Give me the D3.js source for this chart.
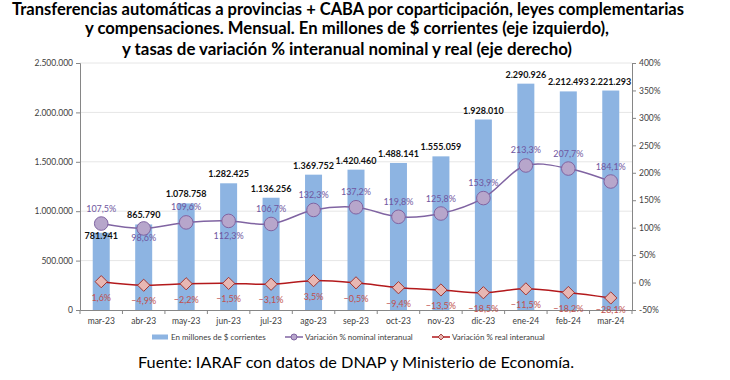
<!DOCTYPE html>
<html><head><meta charset="utf-8">
<script src="https://cdn.jsdelivr.net/npm/d3@7"></script>
<style>
body{margin:0;background:#fff;}
svg{display:block;font-family:"Lato","Open Sans",sans-serif;}
</style></head>
<body>
<svg id="c" width="730" height="380"></svg>
<script>
const categories = ["mar-23","abr-23","may-23","jun-23","jul-23","ago-23","sep-23","oct-23","nov-23","dic-23","ene-24","feb-24","mar-24"];
const montos = [781941, 865790, 1078758, 1282425, 1136256, 1369752, 1420460, 1488141, 1555059, 1928010, 2290926, 2212493, 2221293];
const nominal = [107.5, 98.6, 109.6, 112.3, 106.7, 132.3, 137.2, 119.8, 125.8, 153.9, 213.3, 207.7, 184.1];
const real = [1.6, -4.9, -2.2, -1.5, -3.1, 3.5, -0.5, -9.4, -13.5, -18.5, -11.5, -18.2, -28.1];
const leftTicks = [0, 500000, 1000000, 1500000, 2000000, 2500000];
const rightTicks = [-50, 0, 50, 100, 150, 200, 250, 300, 350, 400];
const titleLines = [
  "Transferencias automáticas a provincias + CABA por coparticipación, leyes complementarias",
  "y compensaciones. Mensual. En millones de $ corrientes (eje izquierdo),",
  "y tasas de variación % interanual nominal y real (eje derecho)"
];
const legendLabels = ["En millones de $ corrientes","Variación % nominal interanual","Variación % real interanual"];
const source = "Fuente: IARAF con datos de DNAP y Ministerio de Economía.";

const svg = d3.select("#c");
const L = 80, R = 632, T = 63, B = 310;

const fmtNum = d3.formatLocale({decimal:",", thousands:".", grouping:[3], currency:["$",""]});
const fInt = fmtNum.format(",d");
const fPct = v => fmtNum.format(".1f")(v) + "%";

const x = d3.scaleBand().domain(categories).range([L, R]).paddingInner(0).paddingOuter(0);
const yL = d3.scaleLinear().domain([0, 2500000]).range([B, T]);
const yR = d3.scaleLinear().domain([-50, 400]).range([B, T]);
const cx = c => x(c) + x.bandwidth()/2;

// title
const titleFit = [{w:672, c:348, y:14.5},{w:524, c:347, y:34},{w:450, c:347, y:54.5}];
titleLines.forEach((t,i)=>{
  svg.append("text").attr("x", titleFit[i].c).attr("y", titleFit[i].y)
    .attr("text-anchor","middle").attr("font-size",16.5).attr("font-weight","bold")
    .attr("fill","#000").attr("textLength", titleFit[i].w).attr("lengthAdjust","spacingAndGlyphs")
    .text(t);
});

// gridlines
svg.append("g").selectAll("line").data(leftTicks.filter(d=>d>0)).join("line")
  .attr("x1", L).attr("x2", R).attr("y1", d=>yL(d)).attr("y2", d=>yL(d))
  .attr("stroke","#e6e6e6").attr("stroke-width",1);

// bars
svg.append("g").selectAll("rect").data(montos).join("rect")
  .attr("x",(d,i)=>cx(categories[i]) - 8.5).attr("width",17)
  .attr("y", d=>yL(d)).attr("height", d=>B - yL(d))
  .attr("fill","#8db4e2");

// axes
const axL = svg.append("g").attr("transform",`translate(${L},0)`)
  .call(d3.axisLeft(yL).tickValues(leftTicks).tickFormat(d=>fInt(d)).tickSize(4).tickPadding(3));
const axR = svg.append("g").attr("transform",`translate(${R},0)`)
  .call(d3.axisRight(yR).tickValues(rightTicks).tickFormat(d=>d+"%").tickSize(4).tickPadding(3));
const axB = svg.append("g").attr("transform",`translate(0,${B})`)
  .call(d3.axisBottom(x).tickSize(0).tickPadding(8));
[axL, axR, axB].forEach(a=>{
  a.select(".domain").attr("stroke","#868686");
  a.selectAll(".tick line").attr("stroke","#868686");
  a.selectAll("text").attr("font-size",8.5).attr("fill","#404040").attr("font-family","Lato, 'Open Sans', sans-serif");
});
// category boundary ticks
svg.append("g").selectAll("line").data(d3.range(categories.length+1)).join("line")
  .attr("x1", i=>L + i*x.bandwidth()).attr("x2", i=>L + i*x.bandwidth())
  .attr("y1", B).attr("y2", B+4).attr("stroke","#868686");

// lines
const lineGen = d3.line().x((d,i)=>cx(categories[i])).y(d=>yR(d)).curve(d3.curveCatmullRom.alpha(0.5));
svg.append("path").datum(nominal).attr("d", lineGen).attr("fill","none")
  .attr("stroke","#8064a2").attr("stroke-width",1.5);
svg.append("path").datum(real).attr("d", lineGen).attr("fill","none")
  .attr("stroke","#b3191c").attr("stroke-width",1.5);

// markers
svg.append("g").selectAll("circle").data(nominal).join("circle")
  .attr("cx",(d,i)=>cx(categories[i])).attr("cy", d=>yR(d)).attr("r",6.8)
  .attr("fill","#b7a6cb").attr("stroke","#8064a2").attr("stroke-width",1);
const dia = d3.symbol().type(d3.symbolDiamond2).size(95);
svg.append("g").selectAll("path").data(real).join("path")
  .attr("transform",(d,i)=>`translate(${cx(categories[i])},${yR(d)})`)
  .attr("d", dia).attr("fill","#e8b7b3").attr("stroke","#a23734").attr("stroke-width",1);

// bar labels
const barLabelShift = {0: 12};
svg.append("g").selectAll("text").data(montos).join("text")
  .attr("x",(d,i)=>cx(categories[i])).attr("y",(d,i)=>yL(d) - 6 + (barLabelShift[i]||0))
  .attr("text-anchor","middle").attr("font-size",9).attr("font-weight","bold").attr("fill","#111")
  .text(d=>fInt(d));

// nominal labels
const nomBelow = {1: 10, 3: 15};
svg.append("g").selectAll("text").data(nominal).join("text")
  .attr("x",(d,i)=>cx(categories[i])).attr("y",(d,i)=> nomBelow[i] ? yR(d)+nomBelow[i]+3 : yR(d)-12)
  .attr("text-anchor","middle").attr("font-size",9).attr("fill","#6f56a0")
  .text(d=>fPct(d));

// real labels
svg.append("g").selectAll("text").data(real).join("text")
  .attr("x",(d,i)=>cx(categories[i])).attr("y",d=>Math.min(yR(d)+19, 313))
  .attr("text-anchor","middle").attr("font-size",9).attr("fill","#c0504d")
  .text(d=>fPct(d));

// legend
const lg = svg.append("g").attr("font-size",8).attr("fill","#404040");
const ly = 337;
lg.append("rect").attr("x",152).attr("y",ly-2.5).attr("width",16).attr("height",5).attr("fill","#8db4e2");
lg.append("text").attr("x",171).attr("y",ly+3).text(legendLabels[0]);
lg.append("line").attr("x1",285).attr("x2",303).attr("y1",ly).attr("y2",ly).attr("stroke","#8064a2").attr("stroke-width",1.5);
lg.append("circle").attr("cx",294).attr("cy",ly).attr("r",3).attr("fill","#b7a6cb").attr("stroke","#8064a2");
lg.append("text").attr("x",305).attr("y",ly+3).text(legendLabels[1]);
lg.append("line").attr("x1",432).attr("x2",450).attr("y1",ly).attr("y2",ly).attr("stroke","#b3191c").attr("stroke-width",1.5);
lg.append("path").attr("transform",`translate(441,${ly})`).attr("d", d3.symbol().type(d3.symbolDiamond2).size(22))
  .attr("fill","#e8b7b3").attr("stroke","#a23734");
lg.append("text").attr("x",452).attr("y",ly+3).text(legendLabels[2]);

// source
svg.append("text").attr("x",356).attr("y",368).attr("text-anchor","middle")
  .attr("font-size",16).attr("fill","#000").attr("textLength",436).attr("lengthAdjust","spacingAndGlyphs")
  .text(source);
</script>
</body></html>
